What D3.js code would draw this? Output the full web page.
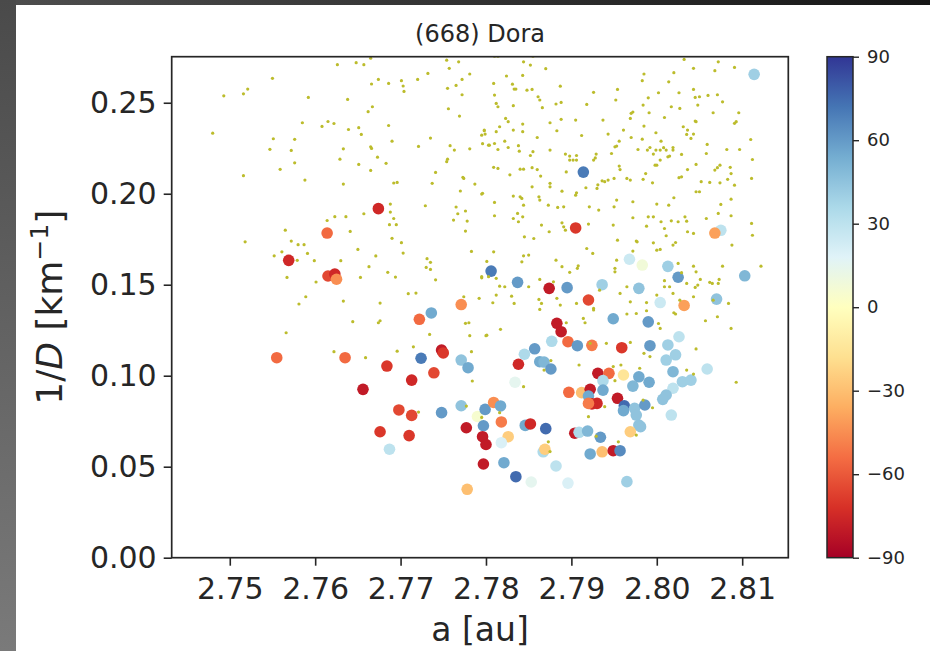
<!DOCTYPE html>
<html>
<head>
<meta charset="utf-8">
<script src="https://cdn.jsdelivr.net/npm/d3@7"></script>
<style>
  html, body { margin: 0; padding: 0; background: #ffffff; }
  svg { display: block; }
  text { font-family: "DejaVu Sans", sans-serif; fill: #262626; }
</style>
</head>
<body>
<svg id="chart" width="930" height="651"></svg>
<script>
// Background asteroids: [a (au), 1/D (km^-1)]
const background = [
  [2.7626,0.2709],[2.7648,0.2720],[2.7657,0.2709],[2.7665,0.2745],[2.7754,0.2734],[2.7768,0.2725],[2.7757,0.2689],[2.7550,0.2634],
  [2.7666,0.2603],[2.7674,0.2628],[2.7686,0.2606],[2.7701,0.2621],[2.7703,0.2592],[2.7704,0.2562],[2.7720,0.2628],[2.7732,0.2661],
  [2.7755,0.2579],[2.7765,0.2595],[2.7772,0.2628],[2.7781,0.2658],[2.7772,0.2544],[2.7493,0.2538],[2.7516,0.2549],[2.7521,0.2575],
  [2.7592,0.2529],[2.7638,0.2518],[2.7662,0.2451],[2.7667,0.2478],[2.7756,0.2467],[2.7769,0.2427],[2.7480,0.2333],[2.7585,0.2390],
  [2.7608,0.2370],[2.7615,0.2397],[2.7622,0.2386],[2.7639,0.2353],[2.7651,0.2363],[2.7654,0.2326],[2.7686,0.2375],[2.7798,0.2346],
  [2.7799,0.2328],[2.7551,0.2302],[2.7576,0.2299],[2.7547,0.2244],[2.7572,0.2238],[2.7633,0.2247],[2.7665,0.2258],[2.7666,0.2249],
  [2.7690,0.2289],[2.7721,0.2260],[2.7735,0.2306],[2.7758,0.2264],[2.7763,0.2240],[2.7781,0.2247],[2.7796,0.2275],[2.7804,0.2267],
  [2.7576,0.2170],[2.7629,0.2190],[2.7651,0.2161],[2.7673,0.2201],[2.7683,0.2167],[2.7754,0.2176],[2.7755,0.2190],[2.7559,0.2134],
  [2.7665,0.2128],[2.7741,0.2117],[2.7516,0.2099],[2.7588,0.2075],[2.7633,0.2053],[2.7692,0.2059],[2.7696,0.2062],[2.7737,0.2057],
  [2.7773,0.2090],[2.7774,0.2084],[2.7787,0.2053],[2.7770,0.2015],[2.7795,0.1998],[2.7688,0.1943],[2.7729,0.1934],[2.7765,0.1927],
  [2.7767,0.1890],[2.7776,0.1905],[2.7688,0.1899],[2.7692,0.1864],[2.7623,0.1874],[2.7636,0.1874],[2.7657,0.1890],[2.7687,0.1830],
  [2.7695,0.1830],[2.7762,0.1855],[2.7778,0.1850],[2.7614,0.1853],[2.7565,0.1800],[2.7641,0.1793],[2.7776,0.1795],[2.7518,0.1736],
  [2.7572,0.1740],[2.7580,0.1720],[2.7587,0.1720],[2.7591,0.1672],[2.7552,0.1659],[2.7561,0.1681],[2.7579,0.1634],[2.7599,0.1632],
  [2.7630,0.1632],[2.7650,0.1694],[2.7671,0.1658],[2.7690,0.1755],[2.7701,0.1731],[2.7703,0.1674],[2.7783,0.1683],[2.7663,0.1599],
  [2.7685,0.1568],[2.7694,0.1542],[2.7731,0.1643],[2.7735,0.1623],[2.7730,0.1595],[2.7735,0.1584],[2.7741,0.1527],[2.7567,0.1540],
  [2.7601,0.1515],[2.7653,0.1540],[2.7795,0.1538],[2.7801,0.1628],[2.7709,0.1451],[2.7718,0.1454],[2.7589,0.1434],[2.7581,0.1394],
  [2.7633,0.1410],[2.7676,0.1399],[2.7774,0.1434],[2.7792,0.1425],
  [2.7566,0.1236],[2.7644,0.1297],[2.7674,0.1291],[2.7676,0.1302],[2.7622,0.1132],[2.7659,0.1099],[2.7696,0.1135],[2.7715,0.1159],
  [2.7734,0.1227],[2.7781,0.1220],[2.7800,0.1220],[2.7776,0.1288],[2.7780,0.1291],[2.7783,0.1132],[2.7784,0.0971],[2.7721,0.0800],
  [2.7777,0.0833],
  [2.7810,0.2756],[2.7814,0.2756],[2.7855,0.2756],[2.7844,0.2725],[2.7852,0.2707],[2.7870,0.2687],[2.7824,0.2647],[2.7843,0.2650],
  [2.7809,0.2606],[2.7831,0.2602],[2.7833,0.2575],[2.7835,0.2575],[2.7848,0.2569],[2.7854,0.2573],[2.7810,0.2542],[2.7861,0.2533],
  [2.7863,0.2515],[2.7887,0.2591],[2.7812,0.2496],[2.7814,0.2478],[2.7832,0.2484],[2.7866,0.2473],[2.7882,0.2493],[2.7888,0.2502],
  [2.7918,0.2491],[2.7926,0.2557],[2.7954,0.2573],[2.7952,0.2515],[2.7985,0.2658],[2.7983,0.2621],[2.8020,0.2665],[2.8014,0.2615],
  [2.8032,0.2738],[2.8043,0.2689],[2.8072,0.2725],[2.8068,0.2676],[2.8091,0.2694],[2.8002,0.2555],[2.7990,0.2527],[2.7984,0.2487],
  [2.8026,0.2555],[2.8043,0.2573],[2.8045,0.2529],[2.8050,0.2533],[2.8060,0.2540],[2.8071,0.2544],[2.8077,0.2505],[2.8017,0.2478],
  [2.8027,0.2469],[2.8048,0.2487],[2.8066,0.2445],[2.8096,0.2445],[2.7798,0.2350],[2.7795,0.2322],[2.7812,0.2341],[2.7823,0.2414],
  [2.7826,0.2396],[2.7822,0.2289],[2.7816,0.2368],[2.7832,0.2350],[2.7843,0.2383],[2.7843,0.2341],[2.7875,0.2390],[2.7888,0.2409],
  [2.7883,0.2346],[2.7905,0.2405],[2.7912,0.2320],[2.7937,0.2405],[2.7943,0.2328],[2.7961,0.2350],[2.7970,0.2442],[2.7969,0.2414],
  [2.7972,0.2449],[2.7991,0.2445],[2.8009,0.2419],[2.8045,0.2399],[2.8031,0.2368],[2.8036,0.2350],[2.8035,0.2326],[2.8040,0.2304],
  [2.8043,0.2328],[2.8046,0.2396],[2.8093,0.2396],[2.8091,0.2387],[2.8110,0.2298],[2.7985,0.2372],[2.7999,0.2335],[2.8005,0.2289],
  [2.7983,0.2300],[2.7970,0.2309],[2.7953,0.2262],[2.7951,0.2258],[2.7956,0.2289],[2.7803,0.2267],[2.7810,0.2276],[2.7814,0.2243],
  [2.7826,0.2254],[2.7838,0.2264],[2.7839,0.2234],[2.7852,0.2210],[2.7860,0.2309],[2.7855,0.2231],[2.7875,0.2240],[2.7893,0.2218],
  [2.7898,0.2207],[2.7906,0.2210],[2.7902,0.2185],[2.7929,0.2218],[2.7928,0.2197],[2.7926,0.2185],[2.7947,0.2221],[2.7978,0.2243],
  [2.7989,0.2240],[2.7992,0.2254],[2.7996,0.2218],[2.7999,0.2240],[2.8004,0.2240],[2.8008,0.2253],[2.8011,0.2240],[2.8019,0.2254],
  [2.8019,0.2240],[2.8015,0.2207],[2.8004,0.2185],[2.8013,0.2203],[2.8000,0.2157],[2.8029,0.2216],[2.8059,0.2271],[2.8058,0.2221],
  [2.8082,0.2243],[2.8097,0.2243],[2.8112,0.2188],[2.7809,0.2145],[2.7814,0.2139],[2.7828,0.2104],[2.7840,0.2135],[2.7844,0.2135],
  [2.7854,0.2143],[2.7860,0.2133],[2.7864,0.2097],[2.7894,0.2120],[2.7898,0.2185],[2.7906,0.2185],[2.7936,0.2071],[2.7939,0.2066],
  [2.7943,0.2075],[2.7930,0.2029],[2.7931,0.2049],[2.7956,0.2152],[2.7957,0.2133],[2.7950,0.2084],[2.7965,0.2084],[2.7969,0.2075],
  [2.7987,0.2111],[2.7984,0.2079],[2.7995,0.2060],[2.7998,0.2157],[2.8026,0.2088],[2.8029,0.2093],[2.8036,0.2133],[2.8046,0.2161],
  [2.8052,0.2066],[2.8062,0.2062],[2.8068,0.2130],[2.8071,0.2143],[2.8074,0.2157],[2.8086,0.2145],[2.8087,0.2111],[2.8083,0.2079],
  [2.8074,0.2060],[2.8111,0.2084],[2.8091,0.2047],[2.7796,0.2002],[2.7810,0.1952],[2.7810,0.1879],[2.7837,0.1892],[2.7832,0.1987],
  [2.7840,0.1983],[2.7842,0.1974],[2.7844,0.1937],[2.7862,0.1983],[2.7863,0.1965],[2.7854,0.2038],[2.7873,0.1937],[2.7884,0.1925],
  [2.7875,0.2057],[2.7875,0.2038],[2.7889,0.2014],[2.7891,0.1928],[2.7906,0.2005],[2.7905,0.1992],[2.7917,0.2033],[2.7921,0.1928],
  [2.7932,0.1910],[2.7950,0.1928],[2.7953,0.1965],[2.7972,0.1956],[2.8000,0.1943],[2.8014,0.1937],[2.8020,0.1978],[2.8046,0.2011],
  [2.8050,0.2011],[2.8075,0.1941],[2.8087,0.1970],[2.8072,0.1892],[2.8058,0.1864],[2.8033,0.1873],[2.8025,0.1846],[2.8017,0.1851],
  [2.8005,0.1846],[2.7996,0.1873],[2.7990,0.1873],[2.7972,0.1868],[2.7988,0.1822],[2.8009,0.1809],[2.8035,0.1849],[2.8043,0.1782],
  [2.8036,0.1791],[2.8011,0.1769],[2.8022,0.1732],[2.8000,0.1690],[2.7976,0.1740],[2.7954,0.1745],[2.7949,0.1828],[2.7920,0.1833],
  [2.7889,0.1840],[2.7891,0.1818],[2.7893,0.1800],[2.7865,0.1828],[2.7874,0.1791],[2.7856,0.1754],[2.7845,0.1763],[2.7838,0.1846],
  [2.7843,0.1873],[2.7832,0.1864],[2.7809,0.1681],[2.7844,0.1659],[2.7850,0.1663],[2.7842,0.1626],[2.7882,0.1635],[2.7889,0.1599],
  [2.7898,0.1568],[2.7907,0.1590],[2.7908,0.1604],[2.7918,0.1699],[2.7925,0.1672],[2.7951,0.1571],[2.7953,0.1635],[2.7951,0.1590],
  [2.7972,0.1685],[2.7977,0.1736],[2.7996,0.1730],[2.8004,0.1694],[2.8019,0.1718],[2.8025,0.1617],[2.8043,0.1602],[2.8029,0.1566],
  [2.8015,0.1489],[2.8009,0.1522],[2.8035,0.1507],[2.8045,0.1485],[2.8051,0.1529],[2.8062,0.1513],[2.8077,0.1602],[2.8088,0.1718],
  [2.8112,0.1772],[2.8122,0.1602],[2.8111,0.1837],[2.8087,0.1879],[2.8073,0.1529],[2.8065,0.1507],[2.8046,0.1571],[2.7795,0.1544],
  [2.7803,0.1544],[2.7812,0.1535],[2.7822,0.1489],[2.7830,0.1437],[2.7850,0.1489],[2.7863,0.1529],[2.7865,0.1397],[2.7862,0.1419],
  [2.7883,0.1425],[2.7887,0.1388],[2.7906,0.1397],[2.7926,0.1370],[2.7933,0.1470],[2.7957,0.1452],[2.7965,0.1489],[2.7969,0.1406],
  [2.7988,0.1402],[2.8000,0.1443],[2.8009,0.1489],[2.8019,0.1452],[2.8027,0.1415],[2.8043,0.1434],[2.8072,0.1507],[2.8084,0.1397],
  [2.8048,0.1498],[2.8066,0.1415],[2.7879,0.1516],[2.7812,0.1443],[2.7833,0.1397],[2.7808,0.1401],[2.7816,0.1492],
  [2.7863,0.1364],[2.7926,0.1361],[2.7965,0.1339],[2.7976,0.1342],[2.7988,0.1357],[2.8020,0.1346],[2.8022,0.1339],[2.8057,0.1302],
  [2.8071,0.1324],[2.8087,0.1260],[2.7801,0.1223],[2.7817,0.1255],[2.7914,0.1315],[2.7916,0.1291],[2.7894,0.1291],[2.7922,0.1178],
  [2.7941,0.1178],[2.7969,0.1183],[2.7985,0.1123],[2.7992,0.1105],[2.8002,0.1287],[2.8004,0.1260],[2.8046,0.1147],[2.8035,0.1031],
  [2.8043,0.1009],[2.8093,0.0964],[2.7844,0.0940],[2.7876,0.1083],[2.7868,0.1031],[2.7909,0.1059],[2.7949,0.1050],[2.7958,0.1059],
  [2.7951,0.0973],[2.7980,0.1041],[2.7995,0.0824],[2.7984,0.0866],[2.7939,0.0830],[2.7920,0.0775],[2.7976,0.0674],[2.7955,0.0637],
  [2.7929,0.0668],[2.7873,0.0637],[2.7816,0.0797],[2.7795,0.0771],[2.7875,0.0583]
];

// Family members: [a (au), 1/D (km^-1), colour value (deg)]
const family = [
  [2.7674,0.1918,-75],[2.7614,0.1784,-55],[2.7569,0.1634,-75],[2.7615,0.1548,-65],[2.7623,0.1559,-75],[2.7625,0.1530,-45],
  [2.7771,0.1391,-45],[2.7736,0.1345,55],[2.8114,0.2656,40],[2.7914,0.2119,70],[2.7905,0.1812,-70],[2.8075,0.1799,30],
  [2.8068,0.1784,-40],[2.7968,0.1640,25],[2.7983,0.1608,8],[2.8013,0.1601,40],[2.8025,0.1541,60],[2.8103,0.1549,50],
  [2.7806,0.1575,70],[2.7837,0.1513,60],[2.7874,0.1480,-80],[2.7895,0.1484,60],[2.7936,0.1500,40],[2.7920,0.1416,-65],
  [2.7979,0.1480,45],[2.8004,0.1402,25],[2.8032,0.1386,-40],[2.8070,0.1421,45],[2.7722,0.1310,-55],[2.7555,0.1099,-55],
  [2.7635,0.1099,-55],[2.7684,0.1053,-70],[2.7724,0.1096,70],[2.7748,0.1141,-80],[2.7750,0.1125,-70],[2.7771,0.1086,45],
  [2.7779,0.1044,55],[2.7739,0.1016,-65],[2.7713,0.0976,-75],[2.7656,0.0925,-80],[2.7698,0.0812,-65],[2.7713,0.0782,-65],
  [2.7748,0.0797,60],[2.7771,0.0835,45],[2.7790,0.0776,5],[2.7799,0.0815,60],[2.7797,0.0725,60],[2.7777,0.0714,-80],
  [2.7796,0.0665,-80],[2.7800,0.0622,-80],[2.7676,0.0692,-70],[2.7710,0.0671,-70],[2.7687,0.0596,30],[2.7797,0.0515,-80],
  [2.7778,0.0376,-30],[2.7883,0.1288,-80],[2.7888,0.1242,-80],[2.7877,0.1189,35],[2.7857,0.1148,60],[2.7845,0.1118,35],
  [2.7863,0.1077,55],[2.7868,0.1075,50],[2.7876,0.1037,60],[2.7838,0.1063,-75],[2.7834,0.0964,15],[2.7809,0.0853,-45],
  [2.7817,0.0834,55],[2.7818,0.0746,-50],[2.7846,0.0727,55],[2.7852,0.0735,-75],[2.7870,0.0709,75],[2.7826,0.0665,-25],
  [2.7818,0.0632,20],[2.7867,0.0582,35],[2.7869,0.0596,-25],[2.7882,0.0504,30],[2.7821,0.0522,55],[2.7835,0.0445,75],
  [2.7853,0.0416,15],[2.7896,0.1187,-55],[2.7907,0.1165,60],[2.7924,0.1167,-50],[2.7959,0.1154,-70],[2.7949,0.1313,55],
  [2.7990,0.1296,60],[2.7992,0.1165,60],[2.8013,0.1169,40],[2.8026,0.1214,30],[2.8022,0.1115,40],[2.8011,0.1086,40],
  [2.8019,0.1022,50],[2.8059,0.1037,30],[2.7931,0.1013,-80],[2.7944,0.1013,-55],[2.7937,0.0973,35],[2.7961,0.1004,-15],
  [2.7979,0.0994,55],[2.7991,0.0964,55],[2.7972,0.0943,50],[2.8030,0.0967,40],[2.8040,0.0976,40],[2.8019,0.0931,30],
  [2.8011,0.0894,45],[2.8007,0.0870,45],[2.7897,0.0909,-55],[2.7912,0.0907,-30],[2.7922,0.0925,-80],[2.7937,0.0921,55],
  [2.7920,0.0888,55],[2.7930,0.0848,-75],[2.7924,0.0845,-75],[2.7920,0.0848,-50],[2.7954,0.0876,-80],[2.7962,0.0835,75],
  [2.7961,0.0808,55],[2.7974,0.0821,45],[2.7986,0.0839,60],[2.7976,0.0784,45],[2.7979,0.0729,45],[2.7981,0.0720,45],
  [2.7969,0.0692,-25],[2.8017,0.0784,30],[2.7904,0.0684,-80],[2.7909,0.0689,35],[2.7919,0.0696,50],[2.7934,0.0662,60],
  [2.7922,0.0570,55],[2.7936,0.0582,-30],[2.7949,0.0588,-80],[2.7957,0.0588,65],[2.7965,0.0418,40],[2.7896,0.0410,20]
];

const xTicks = [2.75, 2.76, 2.77, 2.78, 2.79, 2.80, 2.81];
const yTicks = [0.00, 0.05, 0.10, 0.15, 0.20, 0.25];
const cbarTicks = [-90, -60, -30, 0, 30, 60, 90];

const svg = d3.select("#chart");
const W = 930, H = 651;
const defs = svg.append("defs");

// Window frame around the figure
const gTop = defs.append("linearGradient").attr("id", "frameTop").attr("x1", 0).attr("x2", 1).attr("y1", 0).attr("y2", 0);
gTop.append("stop").attr("offset", 0).attr("stop-color", "#4e4e4e");
gTop.append("stop").attr("offset", 1).attr("stop-color", "#161616");
const gLeft = defs.append("linearGradient").attr("id", "frameLeft").attr("x1", 0).attr("x2", 0).attr("y1", 0).attr("y2", 1);
gLeft.append("stop").attr("offset", 0).attr("stop-color", "#4a4a4a");
gLeft.append("stop").attr("offset", 1).attr("stop-color", "#7a7a7a");
svg.append("rect").attr("width", W).attr("height", H).attr("fill", "#ffffff");
svg.append("rect").attr("x", 0).attr("y", 0).attr("width", W).attr("height", 5).attr("fill", "url(#frameTop)");
svg.append("rect").attr("x", 0).attr("y", 0).attr("width", 16).attr("height", H).attr("fill", "url(#frameLeft)");

const plot = { left: 171.7, top: 56.7, right: 788.3, bottom: 557.7 };

const x = d3.scaleLinear().domain([2.7432, 2.8154]).range([plot.left, plot.right]);
const y = d3.scaleLinear().domain([0, 0.2753]).range([plot.bottom, plot.top]);

// RdYlBu colour map, -90 (red) to 90 (blue)
const cmapColors = d3.schemeRdYlBu[11];
const color = d3.scaleLinear()
  .domain(d3.range(11).map(i => -90 + i * 18))
  .range(cmapColors)
  .interpolate(d3.interpolateRgb)
  .clamp(true);

defs.append("clipPath").attr("id", "plotClip")
  .append("rect").attr("x", plot.left).attr("y", plot.top)
  .attr("width", plot.right - plot.left).attr("height", plot.bottom - plot.top);

const marks = svg.append("g").attr("clip-path", "url(#plotClip)");

marks.append("g").selectAll("circle").data(family).join("circle")
  .attr("cx", d => x(d[0])).attr("cy", d => y(d[1])).attr("r", 5.8)
  .attr("fill", d => color(d[2]));

marks.append("g").selectAll("circle").data(background).join("circle")
  .attr("cx", d => x(d[0])).attr("cy", d => y(d[1])).attr("r", 1.6)
  .attr("fill", "#bcbc2c");

// Axes
const tickLen = 8;
const xAxis = svg.append("g").attr("transform", `translate(0,${plot.bottom})`)
  .call(d3.axisBottom(x).tickValues(xTicks).tickFormat(d3.format(".2f")).tickSize(tickLen).tickPadding(12));
const yAxis = svg.append("g").attr("transform", `translate(${plot.left},0)`)
  .call(d3.axisLeft(y).tickValues(yTicks).tickFormat(d3.format(".2f")).tickSize(tickLen).tickPadding(7));
[xAxis, yAxis].forEach(g => {
  g.select(".domain").remove();
  g.selectAll(".tick line").attr("stroke", "#262626").attr("stroke-width", 1.6);
  g.selectAll(".tick text").attr("font-family", "DejaVu Sans").attr("font-size", 30).attr("fill", "#262626");
});

svg.append("rect").attr("x", plot.left).attr("y", plot.top)
  .attr("width", plot.right - plot.left).attr("height", plot.bottom - plot.top)
  .attr("fill", "none").attr("stroke", "#262626").attr("stroke-width", 1.7);

// Title and axis labels
svg.append("text").attr("x", (plot.left + plot.right) / 2).attr("y", 42)
  .attr("text-anchor", "middle").attr("font-size", 24).text("(668) Dora");

svg.append("text").attr("x", (plot.left + plot.right) / 2).attr("y", 641)
  .attr("text-anchor", "middle").attr("font-size", 33).text("a [au]");

const yl = svg.append("text")
  .attr("transform", `translate(62,${(plot.top + plot.bottom) / 2}) rotate(-90)`)
  .attr("text-anchor", "middle").attr("font-size", 36);
yl.append("tspan").text("1/");
yl.append("tspan").attr("font-style", "italic").text("D");
yl.append("tspan").text(" [km");
yl.append("tspan").attr("font-size", 25).attr("dy", -14).text("\u22121");
yl.append("tspan").attr("dy", 14).text("]");

// Colour bar
const cb = { left: 827, right: 853, top: plot.top, bottom: plot.bottom };
const cbScale = d3.scaleLinear().domain([-90, 90]).range([cb.bottom, cb.top]);
const cbGrad = defs.append("linearGradient").attr("id", "cbGrad")
  .attr("x1", 0).attr("x2", 0).attr("y1", 1).attr("y2", 0);
d3.range(0, 181, 6).forEach(v => {
  cbGrad.append("stop").attr("offset", v / 180).attr("stop-color", color(v - 90));
});
svg.append("rect").attr("x", cb.left).attr("y", cb.top)
  .attr("width", cb.right - cb.left).attr("height", cb.bottom - cb.top)
  .attr("fill", "url(#cbGrad)").attr("stroke", "#262626").attr("stroke-width", 1.5);
const cbAxis = svg.append("g").attr("transform", `translate(${cb.right},0)`)
  .call(d3.axisRight(cbScale).tickValues(cbarTicks).tickSize(6).tickPadding(8)
    .tickFormat(d => d < 0 ? "\u2212" + Math.abs(d) : String(d)));
cbAxis.select(".domain").remove();
cbAxis.selectAll(".tick line").attr("stroke", "#262626").attr("stroke-width", 1.4);
cbAxis.selectAll(".tick text").attr("font-family", "DejaVu Sans").attr("font-size", 18).attr("fill", "#262626");
</script>
</body>
</html>
